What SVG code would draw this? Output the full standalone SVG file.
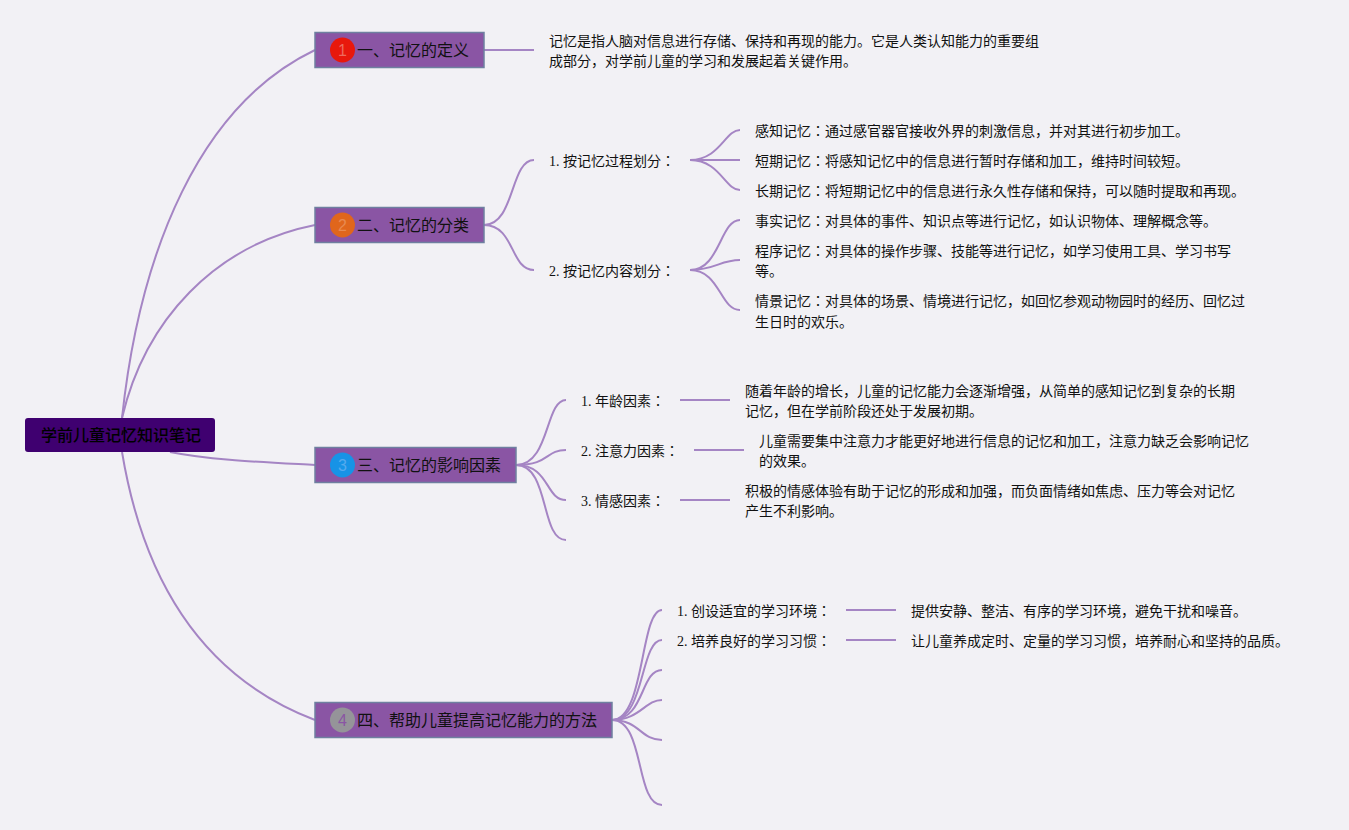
<svg xmlns="http://www.w3.org/2000/svg" width="1349" height="830" viewBox="0 0 1349 830">
<style>
.c{fill:none;stroke:#a585c4;stroke-width:2}
.t{fill:#8a55a4;stroke:#6f80a0;stroke-width:1.5}
text{font-family:"Liberation Serif","Noto Sans CJK JP",serif;font-size:14px;fill:#111}
.h{font-family:"Noto Sans CJK JP","Liberation Sans",sans-serif;font-size:16px;fill:#111}
.r{font-weight:500;fill:#000}
.n{font-family:"Liberation Sans",sans-serif;font-size:16px;text-anchor:middle}
</style>
<rect width="1349" height="830" fill="#f2f1f5"/>
<g id="connectors">
<path class="c" d="M122,418C140,250 200,105 315,50"/>
<path class="c" d="M122,418C145,320 215,245 315,225"/>
<path class="c" d="M170,452C210,460 260,462 315,465"/>
<path class="c" d="M122,452C145,590 210,680 315,720"/>
<path class="c" d="M484,50H534"/>
<path class="c" d="M484,225C515,225 510,160 534,160"/>
<path class="c" d="M484,225C515,225 510,270 534,270"/>
<path class="c" d="M690,160C720,160 725,130 740,130"/>
<path class="c" d="M690,160H740"/>
<path class="c" d="M690,160C720,160 725,190 740,190"/>
<path class="c" d="M690,270C720,270 720,220 740,220"/>
<path class="c" d="M690,270C715,270 720,260 740,260"/>
<path class="c" d="M690,270C720,270 720,310 740,310"/>
<path class="c" d="M516,465C550,465 545,400 566,400"/>
<path class="c" d="M516,465C550,465 545,450 566,450"/>
<path class="c" d="M516,465C550,465 545,500 566,500"/>
<path class="c" d="M516,465C550,465 540,540 566,540"/>
<path class="c" d="M680,400H730"/>
<path class="c" d="M694,450H744"/>
<path class="c" d="M680,500H730"/>
<path class="c" d="M612,720C645,720 640,610 662,610"/>
<path class="c" d="M612,720C645,720 640,640 662,640"/>
<path class="c" d="M612,720C645,720 640,670 662,670"/>
<path class="c" d="M612,720C640,720 645,700 662,700"/>
<path class="c" d="M612,720C640,720 640,740 662,740"/>
<path class="c" d="M612,720C645,720 635,805 662,805"/>
<path class="c" d="M846,610H896"/>
<path class="c" d="M846,640H896"/>
</g>
<g id="root"><rect x="25" y="418" width="190" height="34" rx="3" fill="#3f0070"/><text class="h r" x="41" y="441">学前儿童记忆知识笔记</text></g>
<g id="topic1"><rect class="t" x="315" y="32.500" width="169" height="35"/><circle cx="342.500" cy="50" r="12.500" fill="#e8180c"/><text class="n" x="342.500" y="56" style="fill:#ee6a5e">1</text><text class="h" x="357" y="56">一、记忆的定义</text></g>
<g id="topic2"><rect class="t" x="315" y="207.500" width="169" height="35"/><circle cx="342.500" cy="225" r="12.500" fill="#e0661c"/><text class="n" x="342.500" y="231" style="fill:#e88a50">2</text><text class="h" x="357" y="231">二、记忆的分类</text></g>
<g id="topic3"><rect class="t" x="315" y="447.500" width="201" height="35"/><circle cx="342.500" cy="465" r="12.500" fill="#1793e6"/><text class="n" x="342.500" y="471" style="fill:#55aaee">3</text><text class="h" x="357" y="471">三、记忆的影响因素</text></g>
<g id="topic4"><rect class="t" x="315" y="702.500" width="297" height="35"/><circle cx="342.500" cy="720" r="12.500" fill="#959499"/><text class="n" x="342.500" y="726" style="fill:#8a55a4">4</text><text class="h" x="357" y="726">四、帮助儿童提高记忆能力的方法</text></g>
<g id="def"><text x="549" y="46">记忆是指人脑对信息进行存储、保持和再现的能力。它是人类认知能力的重要组</text><text x="549" y="66">成部分，对学前儿童的学习和发展起着关键作用。</text></g>
<g id="c1"><text x="549" y="166">1. 按记忆过程划分：</text></g>
<g id="c2"><text x="549" y="276">2. 按记忆内容划分：</text></g>
<g id="c1a"><text x="755" y="136">感知记忆：通过感官器官接收外界的刺激信息，并对其进行初步加工。</text></g>
<g id="c1b"><text x="755" y="166">短期记忆：将感知记忆中的信息进行暂时存储和加工，维持时间较短。</text></g>
<g id="c1c"><text x="755" y="196">长期记忆：将短期记忆中的信息进行永久性存储和保持，可以随时提取和再现。</text></g>
<g id="c2a"><text x="755" y="226">事实记忆：对具体的事件、知识点等进行记忆，如认识物体、理解概念等。</text></g>
<g id="c2b"><text x="755" y="256">程序记忆：对具体的操作步骤、技能等进行记忆，如学习使用工具、学习书写</text><text x="755" y="276">等。</text></g>
<g id="c2c"><text x="755" y="306">情景记忆：对具体的场景、情境进行记忆，如回忆参观动物园时的经历、回忆过</text><text x="755" y="327">生日时的欢乐。</text></g>
<g id="f1"><text x="581" y="406">1. 年龄因素：</text></g>
<g id="f2"><text x="581" y="456">2. 注意力因素：</text></g>
<g id="f3"><text x="581" y="506">3. 情感因素：</text></g>
<g id="f1d"><text x="745" y="396">随着年龄的增长，儿童的记忆能力会逐渐增强，从简单的感知记忆到复杂的长期</text><text x="745" y="416">记忆，但在学前阶段还处于发展初期。</text></g>
<g id="f2d"><text x="759" y="446">儿童需要集中注意力才能更好地进行信息的记忆和加工，注意力缺乏会影响记忆</text><text x="759" y="466">的效果。</text></g>
<g id="f3d"><text x="745" y="496">积极的情感体验有助于记忆的形成和加强，而负面情绪如焦虑、压力等会对记忆</text><text x="745" y="516">产生不利影响。</text></g>
<g id="m1"><text x="677" y="616">1. 创设适宜的学习环境：</text></g>
<g id="m2"><text x="677" y="646">2. 培养良好的学习习惯：</text></g>
<g id="m1d"><text x="911" y="616">提供安静、整洁、有序的学习环境，避免干扰和噪音。</text></g>
<g id="m2d"><text x="911" y="646">让儿童养成定时、定量的学习习惯，培养耐心和坚持的品质。</text></g>
</svg>
